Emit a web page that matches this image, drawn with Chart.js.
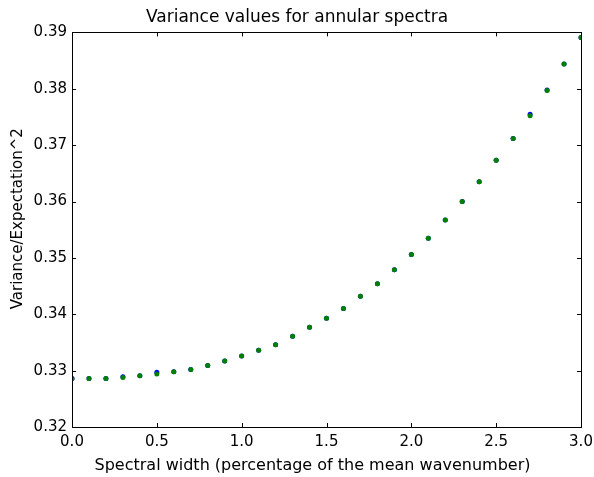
<!DOCTYPE html>
<html>
<head>
<meta charset="utf-8">
<script src="https://cdn.jsdelivr.net/npm/chart.js@4/dist/chart.umd.min.js"></script>
<style>
  html, body { margin: 0; padding: 0; background: #fff; }
  canvas { display: block; }
</style>
</head>
<body>
<canvas id="varianceChart" width="594" height="477"></canvas>
<script>
// Spectral width values (percentage of the mean wavenumber)
const widths = [0.0, 0.1, 0.2, 0.3, 0.4, 0.5, 0.6, 0.7, 0.8, 0.9, 1.0,
                1.1, 1.2, 1.3, 1.4, 1.5, 1.6, 1.7, 1.8, 1.9, 2.0,
                2.1, 2.2, 2.3, 2.4, 2.5, 2.6, 2.7, 2.8, 2.9, 3.0];

// Blue series (mostly hidden under the green one)
const blueValues = [0.3286, 0.3286, 0.3286, 0.3289, 0.3291, 0.3297, 0.3298, 0.3302, 0.3309, 0.3317, 0.3326,
                    0.3336, 0.3346, 0.3361, 0.3377, 0.3393, 0.3410, 0.3432, 0.3454, 0.3479, 0.3506,
                    0.3535, 0.3567, 0.3600, 0.3635, 0.3673, 0.3712, 0.3755, 0.3798, 0.3844, 0.3891];

// Green series
const greenValues = [0.3286, 0.3286, 0.3286, 0.3288, 0.3291, 0.3294, 0.3298, 0.3302, 0.3309, 0.3317, 0.3326,
                     0.3336, 0.3346, 0.3361, 0.3377, 0.3393, 0.3410, 0.3432, 0.3454, 0.3479, 0.3506,
                     0.3535, 0.3567, 0.3600, 0.3635, 0.3673, 0.3712, 0.3752, 0.3797, 0.3844, 0.3891];

const xTicks = [0.0, 0.5, 1.0, 1.5, 2.0, 2.5, 3.0];
const yTicks = [0.32, 0.33, 0.34, 0.35, 0.36, 0.37, 0.38, 0.39];

const xLabel = 'Spectral width (percentage of the mean wavenumber)';
const yLabel = 'Variance/Expectation^2';

const FONT = "'DejaVu Sans', sans-serif";

function toPoints(xs, ys) {
    return xs.map((x, i) => ({ x: x, y: ys[i] }));
}

// matplotlib-style frame with inward ticks on all four sides, plus axis labels
const frameTicks = {
    id: 'frameTicks',
    afterDraw(chart) {
        const ctx = chart.ctx;
        const a = chart.chartArea;
        const xs = chart.scales.x;
        const ys = chart.scales.y;
        const len = 4;
        ctx.save();
        ctx.strokeStyle = '#000';
        ctx.lineWidth = 1;
        ctx.beginPath();
        xTicks.forEach(v => {
            const px = Math.round(xs.getPixelForValue(v)) + 0.5;
            ctx.moveTo(px, a.bottom); ctx.lineTo(px, a.bottom - len);
            ctx.moveTo(px, a.top); ctx.lineTo(px, a.top + len);
        });
        yTicks.forEach(v => {
            const py = Math.round(ys.getPixelForValue(v)) + 0.5;
            ctx.moveTo(a.left, py); ctx.lineTo(a.left + len, py);
            ctx.moveTo(a.right, py); ctx.lineTo(a.right - len, py);
        });
        ctx.stroke();
        ctx.strokeRect(Math.round(a.left) + 0.5, Math.round(a.top) + 0.5,
                       Math.round(a.right - a.left), Math.round(a.bottom - a.top));

        // axis labels
        ctx.fillStyle = '#000';
        ctx.textAlign = 'center';
        ctx.textBaseline = 'alphabetic';
        ctx.font = '16px ' + FONT;
        ctx.fillText(xLabel, (a.left + a.right) / 2 - 14, a.bottom + 43);
        ctx.translate(22, (a.top + a.bottom) / 2 - 11);
        ctx.rotate(-Math.PI / 2);
        ctx.font = '15px ' + FONT;
        ctx.fillText(yLabel, 0, 0);
        ctx.restore();
    }
};

new Chart(document.getElementById('varianceChart'), {
    type: 'scatter',
    data: {
        datasets: [
            {
                label: 'blue',
                data: toPoints(widths, blueValues),
                backgroundColor: '#0000ff',
                borderColor: '#0000ff',
                pointRadius: 2.5,
                borderWidth: 0,
                order: 2
            },
            {
                label: 'green',
                data: toPoints(widths, greenValues),
                backgroundColor: '#008000',
                borderColor: '#008000',
                pointRadius: 2.5,
                borderWidth: 0,
                order: 1
            }
        ]
    },
    options: {
        responsive: false,
        animation: false,
        layout: { padding: { right: 13, left: 13, bottom: 0 } },
        plugins: {
            legend: { display: false },
            tooltip: { enabled: false },
            title: {
                display: true,
                text: 'Variance values for annular spectra',
                color: '#000',
                font: { family: FONT, size: 17, weight: 'normal' },
                padding: { top: 7, bottom: 5 }
            }
        },
        scales: {
            x: {
                type: 'linear',
                min: 0,
                max: 3,
                afterBuildTicks(scale) { scale.ticks = xTicks.map(v => ({ value: v })); },
                afterFit(scale) {
                    scale.height = 50;
                    scale.paddingLeft = 0;
                    scale.paddingRight = 0;
                },
                grid: { display: false, drawTicks: false },
                border: { display: false },
                ticks: {
                    color: '#000',
                    padding: 6,
                    font: { family: FONT, size: 15 },
                    maxRotation: 0,
                    callback: v => v.toFixed(1)
                }
            },
            y: {
                type: 'linear',
                min: 0.32,
                max: 0.39,
                afterBuildTicks(scale) { scale.ticks = yTicks.map(v => ({ value: v })); },
                afterFit(scale) {
                    scale.width = 59;
                    scale.paddingTop = 0;
                    scale.paddingBottom = 0;
                },
                grid: { display: false, drawTicks: false },
                border: { display: false },
                ticks: {
                    color: '#000',
                    padding: 5,
                    font: { family: FONT, size: 15 },
                    callback: v => v.toFixed(2)
                }
            }
        }
    },
    plugins: [frameTicks]
});
</script>
</body>
</html>
